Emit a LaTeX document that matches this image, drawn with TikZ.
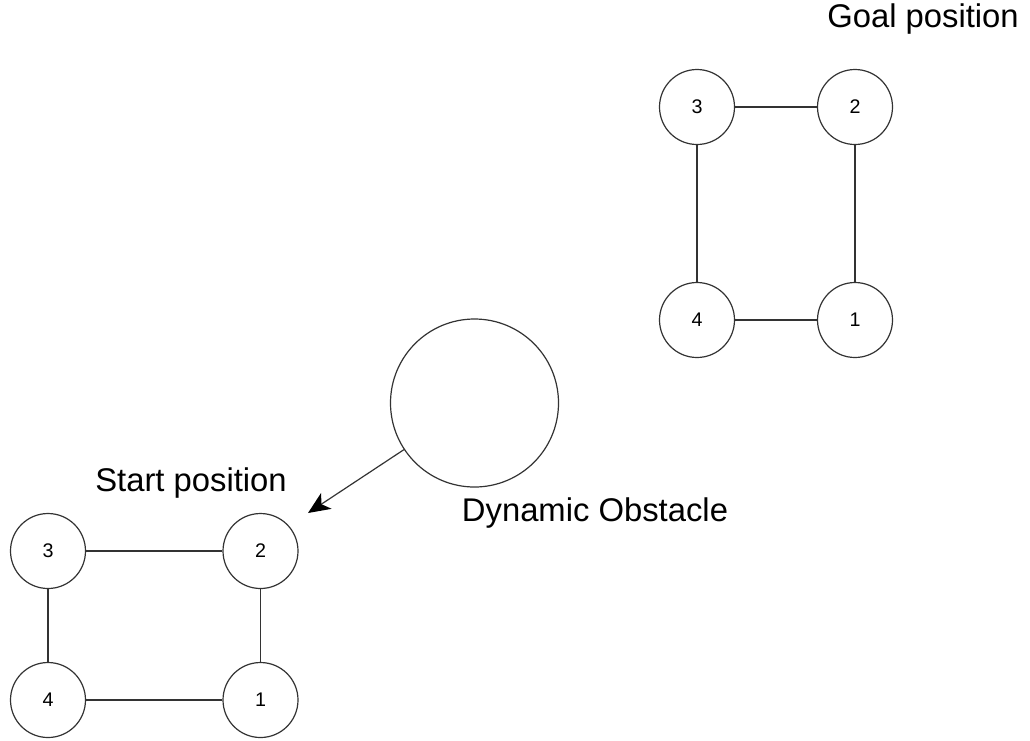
\documentclass[tikz,border=0pt]{standalone}
\usepackage{fontspec}
\setmainfont{Liberation Sans}
\usetikzlibrary{arrows.meta}
\begin{document}
\begin{tikzpicture}[x=1pt,y=-1pt,
  robot/.style={circle,draw=black!80,line width=1.2pt,minimum size=75pt,inner sep=0pt,
    font=\fontsize{19.7}{20}\selectfont},
  obstacle/.style={circle,draw=black!80,line width=1.2pt,minimum size=168pt,inner sep=0pt},
  link/.style={draw=black!80,line width=1.2pt},
  motion/.style={draw=black!80,line width=1.2pt,
    -{Stealth[length=22pt,width=19pt,inset=6pt,fill=black,color=black]}},
  caption/.style={anchor=base,inner sep=0pt,font=\fontsize{32.8}{34}\selectfont}]
\useasboundingbox (0,0) rectangle (1030,740);
% goal formation
\node[robot] (g3) at (697,107) {3};
\node[robot] (g2) at (855,107) {2};
\node[robot] (g4) at (697,320) {4};
\node[robot] (g1) at (855,320) {1};
\draw[link] (g3) -- (g2);
\draw[link] (g2) -- (g1);
\draw[link] (g1) -- (g4);
\draw[link] (g4) -- (g3);
% start formation
\node[robot] (s3) at (48,551) {3};
\node[robot] (s2) at (260.5,551) {2};
\node[robot] (s4) at (48,700) {4};
\node[robot] (s1) at (260.5,700) {1};
\draw[link] (s3) -- (s2);
\draw[link] (s2) -- (s1);
\draw[link] (s1) -- (s4);
\draw[link] (s4) -- (s3);
% obstacle
\node[obstacle] (obs) at (474.5,403) {};
\coordinate (tip) at (308,513);
\draw[motion] (obs) -- (tip);
% captions
\node[caption] (goal) at (923,27) {Goal position};
\node[caption] (start) at (191,491.5) {Start position};
\node[caption] (dyn) at (595,521) {Dynamic Obstacle};
\end{tikzpicture}
\end{document}
